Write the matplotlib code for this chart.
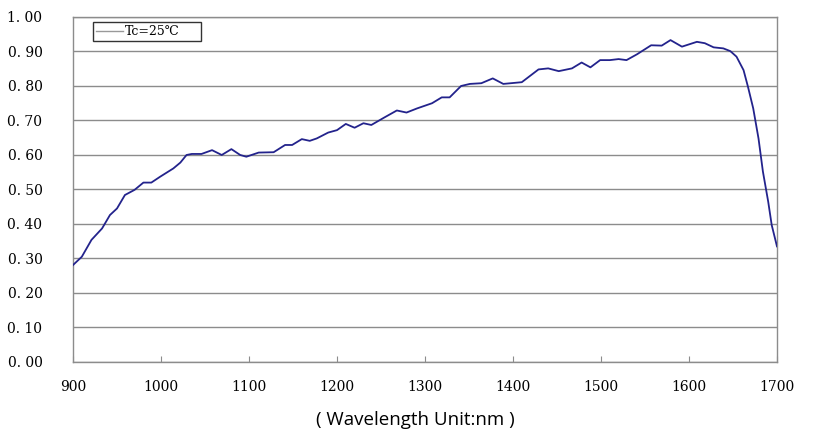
import matplotlib
matplotlib.use("Agg")
import matplotlib.pyplot as plt
from matplotlib.lines import Line2D

wavelength = [900, 910, 921, 933, 942, 950, 959, 970, 980, 989,
              999, 1014, 1022, 1029, 1035, 1046, 1058, 1069, 1080, 1090,
              1097, 1111, 1128, 1141, 1149, 1160, 1169, 1177, 1190, 1200,
              1210, 1220, 1230, 1239, 1254, 1268, 1279, 1291, 1308, 1319,
              1328, 1341, 1351, 1364, 1377, 1389, 1410, 1429, 1440, 1452,
              1467, 1478, 1488, 1499, 1510, 1520, 1529, 1541, 1557, 1569,
              1579, 1592, 1609, 1618, 1628, 1639, 1647, 1654, 1662, 1667,
              1673, 1679, 1684, 1690, 1694, 1700]
response = [0.281, 0.305, 0.354, 0.387, 0.426, 0.445, 0.484, 0.499, 0.520, 0.520,
            0.537, 0.561, 0.578, 0.600, 0.603, 0.603, 0.614, 0.600, 0.617, 0.600,
            0.595, 0.607, 0.608, 0.629, 0.629, 0.646, 0.641, 0.648, 0.665, 0.672,
            0.690, 0.679, 0.692, 0.687, 0.709, 0.729, 0.723, 0.735, 0.750, 0.767,
            0.767, 0.800, 0.806, 0.808, 0.822, 0.806, 0.811, 0.848, 0.851, 0.843,
            0.851, 0.868, 0.854, 0.875, 0.875, 0.878, 0.875, 0.892, 0.918, 0.917,
            0.933, 0.914, 0.928, 0.924, 0.912, 0.909, 0.901, 0.885, 0.846, 0.798,
            0.735, 0.648, 0.552, 0.465, 0.397, 0.335]

x_ticks = [900, 1000, 1100, 1200, 1300, 1400, 1500, 1600, 1700]
y_ticks = [0.0, 0.1, 0.2, 0.3, 0.4, 0.5, 0.6, 0.7, 0.8, 0.9, 1.0]
y_labels = ["0. 00", "0. 10", "0. 20", "0. 30", "0. 40", "0. 50",
            "0. 60", "0. 70", "0. 80", "0. 90", "1. 00"]
legend_label = "Tc=25℃"
x_title = "( Wavelength Unit:nm )"

serif = ["DejaVu Serif", "DejaVu Sans"]
grey = "#8c8c8c"

fig = plt.figure(figsize=(8.13, 4.40), dpi=100)
ax = fig.add_axes([0.0898, 0.1773, 0.8659, 0.7841])

ax.plot(wavelength, response, color="#23238c", lw=1.3, zorder=3,
        solid_joinstyle="round")

ax.set_xlim(900, 1700)
ax.set_ylim(0, 1.0)
ax.set_xticks(x_ticks)
ax.set_xticklabels([str(t) for t in x_ticks], family=serif, fontsize=10)
ax.set_yticks(y_ticks)
ax.set_yticklabels(y_labels, family=serif, fontsize=10)
ax.tick_params(axis="x", direction="in", length=4, color=grey, pad=13)
ax.tick_params(axis="y", length=0, pad=22)

ax.grid(axis="y", color=grey, lw=1)
ax.set_axisbelow(True)
for sp in ax.spines.values():
    sp.set_color(grey)
    sp.set_linewidth(1)

handle = Line2D([], [], color="#999999", lw=1)
leg = ax.legend([handle], [legend_label], loc="upper left",
                bbox_to_anchor=(0.028, 0.921, 0.154, 0.064), mode="expand",
                fancybox=False, edgecolor="#333333", framealpha=1,
                handlelength=2.2, handletextpad=0.1, borderpad=0.25,
                borderaxespad=0, prop={"family": serif, "size": 9})
leg.get_frame().set_linewidth(1)

fig.text(415 / 813, 20 / 440, x_title, ha="center", va="center",
         fontsize=13.5, family="Open Sans")

fig.savefig("out.png", dpi=100)
